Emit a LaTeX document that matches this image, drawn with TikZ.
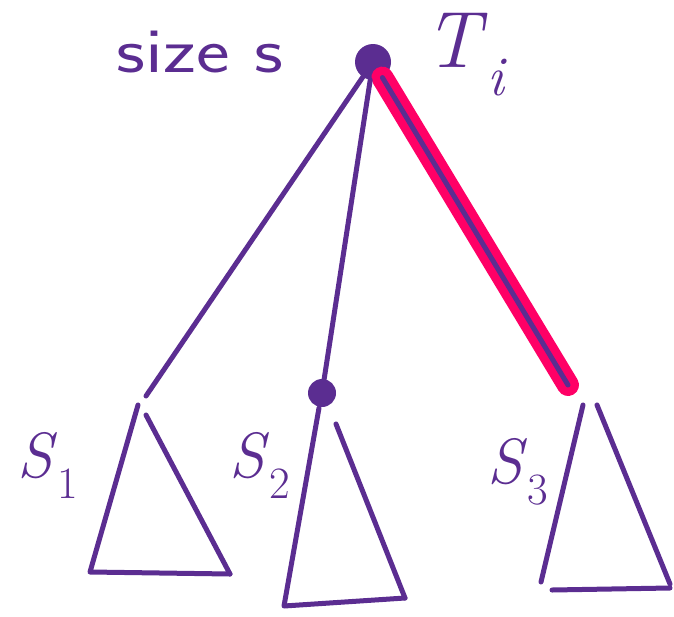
\documentclass[tikz,border=0pt]{standalone}
\usepackage{tikz}
\usetikzlibrary{positioning, calc}
\usepackage{xcolor}
\definecolor{ink}{RGB}{91,45,145}
\definecolor{hilite}{RGB}{255,0,102}
\newcommand{\sub}[2]{\textit{#1}\textsubscript{#2}}

\begin{document}
\begin{tikzpicture}[
  x=1pt, y=-1pt,
  edge/.style={draw=ink, line width=5pt, line cap=round, line join=round},
  hl/.style={draw=hilite, line width=22pt, line cap=round},
  dot/.style={circle, fill=ink, inner sep=0pt},
  lbl/.style={text=ink, inner sep=0pt}
]
\useasboundingbox (0,0) rectangle (674,616);

% root and middle child
\node[dot, minimum size=36pt] (root) at (373,62) {};
\node[dot, minimum size=28pt] (mid) at (322,393) {};
\coordinate (a1) at (146,396);
\coordinate (a3) at (568,385);

% edges, the path to the right subtree highlighted
\draw[hl] (root) -- (a3);
\draw[edge] (root) -- (a1);
\draw[edge] (root) -- (mid);
\draw[edge] (root) -- (a3);

% subtrees: #1 left top, #2 left bottom, #3 right bottom, #4 right top
\def\subtree#1#2#3#4{%
  \draw[edge] #1 -- #2 -- #3;
  \draw[edge] #4 -- #3;
}
\subtree{(138,405)}{(90,572)}{(230,574)}{(146,415)}
\subtree{(319,408)}{(284,606)}{(405,598)}{(336,424)}
\draw[edge] (583,405) -- (541,582);
\draw[edge] (552,590) -- (670,588);
\draw[edge] (597,405) -- (670,584);

% labels
\node[lbl, font=\fontsize{64}{72}\selectfont\sffamily, xscale=1.25] (size) at (200,52) {size s};
\node[lbl, font=\fontsize{80}{90}\selectfont] (ti) at (466,55) {\sub{T}{\textit{i}}};
\node[lbl, font=\fontsize{64}{70}\selectfont] (s1) at (48,465) {\sub{S}{1}};
\node[lbl, font=\fontsize{64}{70}\selectfont] (s2) at (260,465) {\sub{S}{2}};
\node[lbl, font=\fontsize{64}{70}\selectfont] (s3) at (518,472) {\sub{S}{3}};
\end{tikzpicture}
\end{document}
